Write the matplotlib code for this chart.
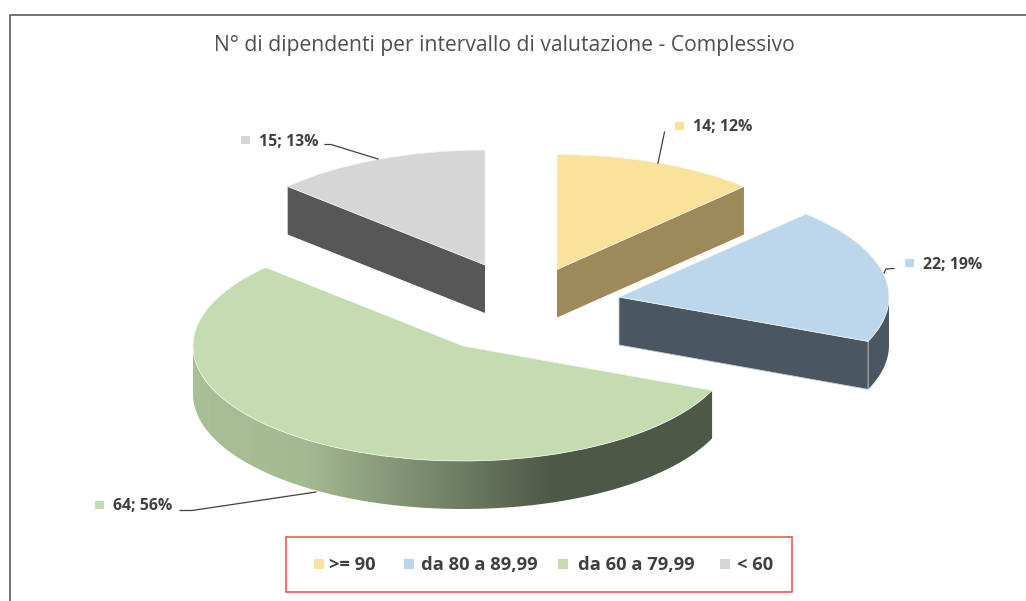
import numpy as np
import matplotlib
matplotlib.use("Agg")
import matplotlib.pyplot as plt
from matplotlib.colors import LinearSegmentedColormap
from matplotlib.patches import Polygon, Rectangle
from matplotlib.transforms import Affine2D

categories = [">= 90", "da 80 a 89,99", "da 60 a 79,99", "< 60"]
values = [14, 22, 64, 15]
percents = [12, 19, 56, 13]
title = "N° di dipendenti per intervallo di valutazione - Complessivo"

# styling / layout, all in pixels of the 1026x601 picture
top_colors = ["#fbe29a", "#bcd6ec", "#c5dcb0", "#d6d6d6"]
wall_colors = ["#9c8a5b", "#4a5761", "#4e5846", "#575757"]
centers = [(557, 269.5), (619, 297), (463, 346), (485, 265)]
rx, ry, depth = 270, 115, 48
text_col = "#404040"

W, H = 1026, 601
fig = plt.figure(figsize=(W / 100, H / 100), dpi=100)
ax = fig.add_axes([0, 0, 1, 1])

# the pie gives the angles, each wedge is then squashed and moved to its spot
wedges, _ = ax.pie(values, colors=top_colors, startangle=90, counterclock=False, radius=1,
                   wedgeprops={"linewidth": 0.5, "edgecolor": "#f4f7f2"})
ax.set_aspect("auto")
ax.set_axis_off()


def pt(c, ang):
    # ang in matplotlib degrees (ccw from x axis), y goes down on screen
    a = np.radians(ang)
    return c[0] + rx * np.cos(a), c[1] - ry * np.sin(a)


def rim(c, a1, a2):
    aa = np.linspace(a1, a2, 80)
    x, y = pt(c, aa)
    return np.vstack([np.column_stack([x, y]),
                      np.column_stack([x[::-1], y[::-1] + depth])])


def cut(c, ang):
    x, y = pt(c, ang)
    return [c, (x, y), (x, y + depth), (c[0], c[1] + depth)]


for w, c in zip(wedges, centers):
    w.set_transform(Affine2D().scale(rx, -ry).translate(*c) + ax.transData)
    w.set_zorder(5)

a = [(w.theta1, w.theta2) for w in wedges]

# yellow, cut face along its right edge
ax.add_patch(Polygon(cut(centers[0], a[0][0]), fc=wall_colors[0], ec="none", zorder=2))

# blue, front cut face and the short rim on the right
ax.add_patch(Polygon(rim(centers[1], a[1][0], 0), fc=wall_colors[1], ec="none", zorder=2))
ax.add_patch(Polygon(cut(centers[1], a[1][0]), fc=wall_colors[1], ec="#c8ced3", lw=0.6, zorder=3))

# gray, cut face on the left edge
ax.add_patch(Polygon(cut(centers[3], a[3][1]), fc=wall_colors[3], ec="none", zorder=2))

# green rim with the light to dark gradient
green_ramp = LinearSegmentedColormap.from_list(
    "rim", [(0, "#a9bf97"), (0.22, "#a3b992"), (0.69, "#4e5846"), (1, "#4e5846")])
gc = centers[2]
rim_poly = Polygon(rim(gc, -180, a[2][1]), fc="none", ec="none", zorder=1)
ax.add_patch(rim_poly)
im = ax.imshow(np.linspace(0, 1, 256)[None, :], cmap=green_ramp, aspect="auto",
               extent=(gc[0] - rx, gc[0] + rx * 0.93, gc[1] + ry + depth + 2, gc[1] - 2), zorder=1)
im.set_clip_path(rim_poly)
ax.set_xlim(0, W)
ax.set_ylim(H, 0)

# outer frame (only top and left are visible in the crop)
ax.plot([9.5, 9.5, W], [H, 14.5, 14.5], color="#4d4d4d", lw=1.1, zorder=6)

fig.text(504.5 / W, 1 - 45.5 / H, title, ha="center", va="center", fontsize=15.2,
         color="#505050", family="Open Sans")

# data labels with the little leader lines
label_pos = [(693, 127), (923, 265), (113, 506.5), (259, 141.5)]
box_pos = [(679, 126), (909, 263), (99, 505), (245, 140)]
leaders = [[(658, 163), (664.5, 132)],
           [(884, 273), (886, 269), (894, 268.5)],
           [(316, 492), (192, 510.5), (180, 510.5)],
           [(378, 159), (331, 144.5), (325, 144.5)]]
for i in range(4):
    bx, by = box_pos[i]
    ax.add_patch(Rectangle((bx - 4.5, by - 4), 9, 8, fc=top_colors[i], ec="none", zorder=7))
    ax.text(label_pos[i][0], label_pos[i][1], f"{values[i]}; {percents[i]}%", ha="left",
            va="center", fontsize=11.4, fontweight="bold", color=text_col, family="Open Sans", zorder=7)
    xs, ys = zip(*leaders[i])
    ax.plot(xs, ys, color="#404040", lw=0.9, zorder=6)

# legend box, handmade to keep the spacing of the original
ax.add_patch(Rectangle((286, 536.5), 506, 55, fc="white", ec="#f04848", lw=1.1, zorder=7))
legend_box = [319, 409, 563, 725]
legend_text = [329, 421, 578, 737]
for i in range(4):
    ax.add_patch(Rectangle((legend_box[i] - 5, 559), 10, 9.5, fc=top_colors[i], ec="none", zorder=8))
    ax.text(legend_text[i], 564.5, categories[i], ha="left", va="center", fontsize=13.2,
            fontweight="bold", color=text_col, family="Open Sans", zorder=8)

fig.savefig("out.png", dpi=100)
